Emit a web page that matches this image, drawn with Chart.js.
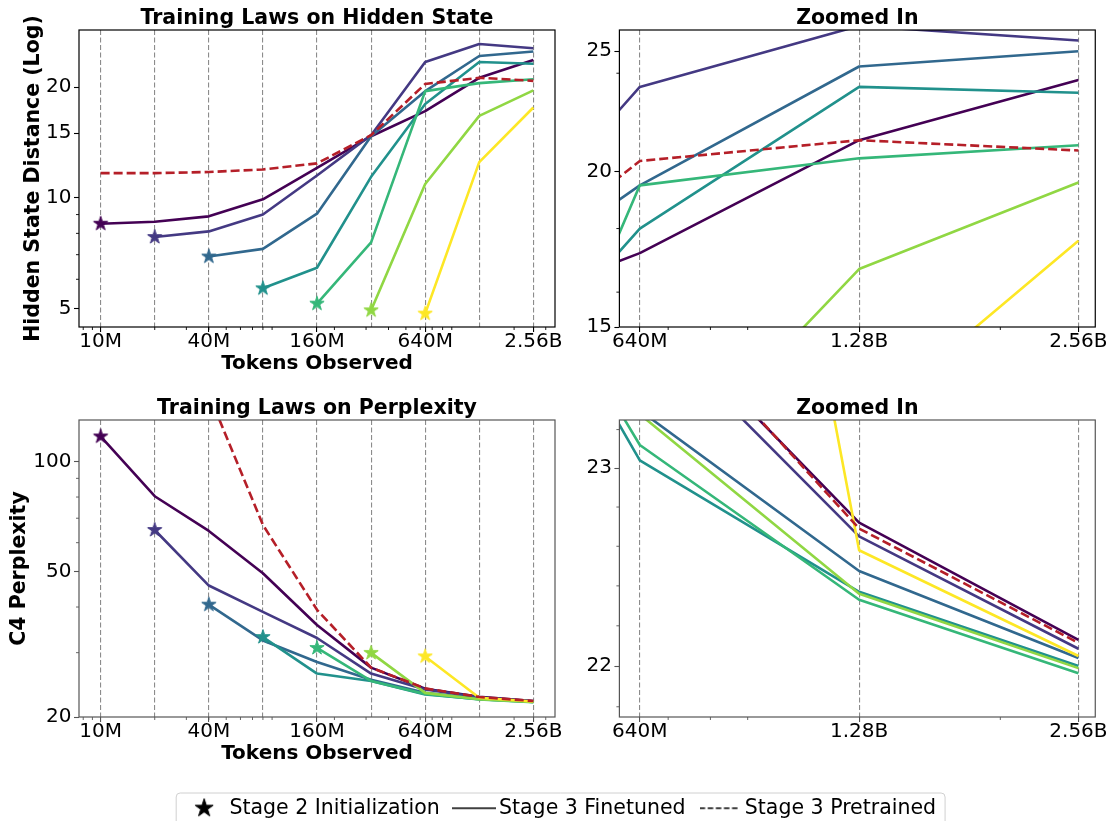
<!DOCTYPE html>
<html>
<head>
<meta charset="utf-8">
<script src="https://cdn.jsdelivr.net/npm/chart.js@4.4.0/dist/chart.umd.min.js"></script>
<style>
html, body { margin: 0; padding: 0; background: #fff; overflow: hidden; }
#wrap { position: relative; width: 1108px; height: 821px; overflow: hidden; background: #fff; }
canvas { position: absolute; }
</style>
</head>
<body>
<div id="wrap">
  <canvas id="tl" width="570" height="390" style="left:0px;top:0px"></canvas>
  <canvas id="tr" width="548" height="390" style="left:560px;top:0px"></canvas>
  <canvas id="bl" width="570" height="390" style="left:0px;top:390px"></canvas>
  <canvas id="br" width="548" height="390" style="left:560px;top:390px"></canvas>
  <canvas id="lg" width="1108" height="120" style="left:0px;top:760px"></canvas>
</div>
<script>
// ---------------- data ----------------
const tokens = [10e6, 20e6, 40e6, 80e6, 160e6, 320e6, 640e6, 1.28e9, 2.56e9];
const xTickValues = [10e6, 40e6, 160e6, 640e6, 2.56e9];
const xTickLabels = ['10M', '40M', '160M', '640M', '2.56B'];
const zoomTickValues = [640e6, 1.28e9, 2.56e9];
const zoomTickLabels = ['640M', '1.28B', '2.56B'];
const minorXLeft = [8e6, 9e6, 20e6, 30e6, 40e6, 50e6, 60e6, 70e6, 80e6, 90e6,
                    200e6, 300e6, 400e6, 500e6, 600e6, 700e6, 800e6, 900e6, 2e9, 3e9];
const minorXZoom = [700e6, 800e6, 900e6, 2e9];

const stageColors = ['#440154', '#443983', '#31688e', '#21918c', '#35b779', '#90d743', '#fde725'];
const pretrainedColor = '#b51f28';

// Hidden state distance (Stage 3 finetuned, one series per Stage 2 init point)
const hidden0 = [8.5, 8.6, 8.9, 9.9, 12.05, 14.7, 17.2, 21.2, 23.7];
const hidden1 = [null, 7.82, 8.1, 9.0, 11.5, 14.8, 23.4, 26.2, 25.5];
const hidden2 = [null, null, 6.92, 7.26, 9.05, 14.7, 19.5, 24.3, 25.0];
const hidden3 = [null, null, null, 5.67, 6.45, 11.4, 18.0, 23.4, 23.15];
const hidden4 = [null, null, null, null, 5.15, 7.56, 19.5, 20.5, 21.0];
const hidden5 = [null, null, null, null, null, 4.94, 10.9, 16.7, 19.6];
const hidden6 = [null, null, null, null, null, null, 4.84, 12.5, 17.6];
const hiddenPretrained = [11.67, 11.67, 11.75, 11.94, 12.4, 14.8, 20.4, 21.2, 20.8];

// C4 perplexity
const ppl0 = [117.2, 80.4, 64.6, 49.5, 35.7, 27.3, 23.9, 22.72, 22.13];
const ppl1 = [null, 65.0, 45.8, 38.8, 32.9, 26.3, 23.8, 22.65, 22.086];
const ppl2 = [null, null, 40.6, 32.4, 28.3, 25.3, 23.3, 22.475, 22.04];
const ppl3 = [null, null, null, 33.1, 26.3, 25.1, 23.04, 22.37, 22.0];
const ppl4 = [null, null, null, null, 30.9, 25.1, 23.12, 22.33, 21.965];
const ppl5 = [null, null, null, null, null, 29.96, 23.28, 22.36, 21.99];
const ppl6 = [null, null, null, null, null, null, 29.3, 22.58, 22.05];
const pplPretrained = [420, 260, 153, 67.1, 39.3, 27.3, 23.95, 22.69, 22.115];

const hiddenYTicks = [5, 10, 15, 20];
const hiddenZoomYTicks = [15, 20, 25];
const pplYTicks = [20, 50, 100];
const pplZoomYTicks = [22, 23];

const legendLabels = ['Stage 2 Initialization', 'Stage 3 Finetuned', 'Stage 3 Pretrained'];

// ---------------- drawing helpers ----------------
const FONT = "'DejaVu Sans', 'Liberation Sans', sans-serif";
Chart.defaults.font.family = FONT;
Chart.defaults.color = '#000';

function makeStar(color, R) {
  const pad = 1.5;
  const size = Math.ceil(2 * R + 2 * pad);
  const c = document.createElement('canvas');
  c.width = size; c.height = size;
  const g = c.getContext('2d');
  const cx = size / 2, cy = size / 2, r = R * 0.381966;
  g.beginPath();
  for (let k = 0; k < 10; k++) {
    const rad = (k % 2 === 0) ? R : r;
    const a = -Math.PI / 2 + k * Math.PI / 5;
    const px = cx + rad * Math.cos(a), py = cy + rad * Math.sin(a);
    if (k === 0) g.moveTo(px, py); else g.lineTo(px, py);
  }
  g.closePath();
  g.fillStyle = color; g.fill();
  g.lineWidth = 1; g.strokeStyle = color; g.stroke();
  return c;
}
function makeHandle(width, dash) {
  const c = document.createElement('canvas');
  c.width = width; c.height = 6;
  const g = c.getContext('2d');
  g.strokeStyle = '#000'; g.lineWidth = 1.5; g.setLineDash(dash);
  g.beginPath(); g.moveTo(0, 3); g.lineTo(width, 3); g.stroke();
  return c;
}
const starImages = stageColors.map(c => makeStar(c, 7.5));

const framePlugin = {
  id: 'frame',
  afterDatasetsDraw(chart, args, o) {
    const { ctx, chartArea: a } = chart;
    ctx.save();
    ctx.strokeStyle = o.color || '#000';
    ctx.lineWidth = 1.2;
    ctx.strokeRect(a.left, a.top, a.right - a.left, a.bottom - a.top);
    ctx.restore();
  }
};
const minorPlugin = {
  id: 'minorTicks',
  afterDraw(chart, args, o) {
    const { ctx, chartArea: a, scales } = chart;
    ctx.save();
    ctx.strokeStyle = o.color || '#000';
    ctx.lineWidth = 0.9;
    ctx.beginPath();
    (o.x || []).forEach(v => {
      const p = scales.x.getPixelForValue(v);
      if (p < a.left || p > a.right) return;
      ctx.moveTo(p, a.bottom); ctx.lineTo(p, a.bottom + o.length);
    });
    (o.y || []).forEach(v => {
      const p = scales.y.getPixelForValue(v);
      if (p < a.top || p > a.bottom) return;
      ctx.moveTo(a.left, p); ctx.lineTo(a.left - o.length, p);
    });
    ctx.stroke();
    ctx.restore();
  }
};

function panel(id, cfg) {
  const datasets = cfg.series.map((vals, i) => ({
    label: 'Stage 3 finetuned from init ' + i,
    data: tokens.map((t, j) => ({ x: t, y: vals[j] })).filter(p => p.y !== null),
    borderColor: stageColors[i],
    backgroundColor: stageColors[i],
    borderWidth: 2.6,
    borderJoinStyle: 'round',
    pointRadius: c => (c.dataIndex === 0 ? 8 : 0),
    pointHoverRadius: 0,
    pointStyle: starImages[i],
    order: -i,
    clip: 0,
    tension: 0
  }));
  datasets.push({
    label: 'Stage 3 Pretrained',
    data: tokens.map((t, j) => ({ x: t, y: cfg.pretrained[j] })),
    borderColor: pretrainedColor,
    backgroundColor: pretrainedColor,
    borderWidth: 2.6,
    borderDash: [9, 4],
    pointRadius: 0,
    pointHoverRadius: 0,
    order: -20,
    clip: 0,
    tension: 0
  });
  const gridVals = cfg.gridVals;
  return new Chart(document.getElementById(id), {
    type: 'line',
    data: { datasets },
    options: {
      responsive: false, animation: false, devicePixelRatio: 1, events: [],
      layout: { padding: { left: 0, right: cfg.padRight, top: 0, bottom: 0 } },
      scales: {
        x: {
          type: 'logarithmic', position: 'bottom', bounds: 'data',
          min: cfg.xMin, max: cfg.xMax,
          afterBuildTicks: s => { s.ticks = gridVals.map(v => ({ value: v })); },
          afterFit: s => { s.height = 63; },
          ticks: {
            autoSkip: false, maxRotation: 0, minRotation: 0, padding: 0, color: '#000',
            font: { size: 20, lineHeight: 1 },
            callback: v => { const k = cfg.xLabelVals.indexOf(v); return k >= 0 ? cfg.xLabels[k] : ''; }
          },
          grid: {
            display: true, drawOnChartArea: true, drawTicks: true, tickLength: 5,
            color: 'rgba(128,128,128,0.9)', lineWidth: 1.1,
            tickColor: c => (cfg.xLabelVals.indexOf(c.tick ? c.tick.value : NaN) >= 0 ? cfg.frameColor : 'rgba(0,0,0,0)'),
            tickWidth: 1.1, tickBorderDash: []
          },
          border: { display: false, dash: [5, 2.5] },
          title: {
            display: !!cfg.xTitle, text: cfg.xTitle || '', color: '#000',
            font: { size: 20, weight: 'bold', lineHeight: '20px' },
            padding: { top: 0, bottom: 16 }
          }
        },
        y: {
          type: 'logarithmic', position: 'left', bounds: 'data',
          min: cfg.yMin, max: cfg.yMax,
          afterBuildTicks: s => { s.ticks = cfg.yTicks.map(v => ({ value: v })); },
          afterFit: s => { s.width = cfg.yWidth; },
          ticks: { autoSkip: false, padding: 2.5, color: '#000', font: { size: 20 }, callback: v => String(v) },
          grid: { display: true, drawOnChartArea: false, drawTicks: true, tickLength: 5, tickColor: cfg.frameColor, tickWidth: 1.1 },
          border: { display: false },
          title: {
            display: !!cfg.yTitle, text: cfg.yTitle || '', color: '#000',
            font: { size: 20.5, weight: 'bold', lineHeight: '20px' },
            padding: { top: cfg.yTitlePad || 0, bottom: 0 }
          }
        }
      },
      plugins: {
        legend: { display: false },
        tooltip: { enabled: false },
        title: {
          display: true, text: cfg.title, fullSize: false, color: '#000',
          font: { size: 20.5, weight: 'bold', lineHeight: '20px' },
          padding: { top: 9, bottom: 1 }
        },
        frame: { color: cfg.frameColor },
        minorTicks: { x: cfg.minorX, y: cfg.minorY, length: 3, color: cfg.frameColor }
      }
    },
    plugins: [framePlugin, minorPlugin]
  });
}

const leftXMin = 10e6 / Math.pow(2, 0.4), leftXMax = 2.56e9 * Math.pow(2, 0.4);

panel('tl', {
  title: 'Training Laws on Hidden State',
  series: [hidden0, hidden1, hidden2, hidden3, hidden4, hidden5, hidden6],
  pretrained: hiddenPretrained,
  xMin: leftXMin, xMax: leftXMax, yMin: 4.45, yMax: 28.6,
  gridVals: tokens, xLabelVals: xTickValues, xLabels: xTickLabels,
  yTicks: hiddenYTicks, minorX: minorXLeft, minorY: [6, 7, 8, 9],
  xTitle: 'Tokens Observed', yTitle: 'Hidden State Distance (Log)', yTitlePad: 24,
  yWidth: 79, padRight: 15, frameColor: '#000'
});
panel('tr', {
  title: 'Zoomed In',
  series: [hidden0, hidden1, hidden2, hidden3, hidden4, hidden5, hidden6],
  pretrained: hiddenPretrained,
  xMin: 6e8, xMax: 2.7e9, yMin: 15, yMax: 26,
  gridVals: zoomTickValues, xLabelVals: zoomTickValues, xLabels: zoomTickLabels,
  yTicks: hiddenZoomYTicks, minorX: minorXZoom, minorY: [16, 18, 24],
  yWidth: 59.4, padRight: 12.5, frameColor: '#000'
});
panel('bl', {
  title: 'Training Laws on Perplexity',
  series: [ppl0, ppl1, ppl2, ppl3, ppl4, ppl5, ppl6],
  pretrained: pplPretrained,
  xMin: leftXMin, xMax: leftXMax, yMin: 20, yMax: 130,
  gridVals: tokens, xLabelVals: xTickValues, xLabels: xTickLabels,
  yTicks: pplYTicks, minorX: minorXLeft, minorY: [30, 40, 60, 70, 80, 90],
  xTitle: 'Tokens Observed', yTitle: 'C4 Perplexity', yTitlePad: 10,
  yWidth: 79, padRight: 15, frameColor: '#555'
});
panel('br', {
  title: 'Zoomed In',
  series: [ppl0, ppl1, ppl2, ppl3, ppl4, ppl5, ppl6],
  pretrained: pplPretrained,
  xMin: 6e8, xMax: 2.7e9, yMin: 21.75, yMax: 23.25,
  gridVals: zoomTickValues, xLabelVals: zoomTickValues, xLabels: zoomTickLabels,
  yTicks: pplZoomYTicks, minorX: minorXZoom, minorY: [21.8, 22.2, 22.4, 22.6, 22.8, 23.2],
  yWidth: 59.4, padRight: 12.5, frameColor: '#555'
});

// ---------------- shared legend ----------------
const legendImages = [makeStar('#000', 9.5), makeHandle(44, []), makeHandle(40, [5.5, 2.6])];
const legendFramePlugin = {
  id: 'legendFrame',
  afterDraw(chart) {
    const hb = chart.legend && chart.legend.legendHitBoxes;
    if (!hb || !hb.length) return;
    const first = hb[0], last = hb[hb.length - 1];
    const left = first.left - 13, right = last.left + last.width + 9;
    const top = first.top - 5, h = 60, r = 4;
    const ctx = chart.ctx;
    ctx.save();
    ctx.strokeStyle = '#d0d0d0';
    ctx.lineWidth = 1;
    ctx.beginPath();
    ctx.moveTo(left + r, top);
    ctx.lineTo(right - r, top);
    ctx.quadraticCurveTo(right, top, right, top + r);
    ctx.lineTo(right, top + h);
    ctx.moveTo(left, top + h);
    ctx.lineTo(left, top + r);
    ctx.quadraticCurveTo(left, top, left + r, top);
    ctx.stroke();
    ctx.restore();
  }
};
new Chart(document.getElementById('lg'), {
  type: 'line',
  data: { datasets: [] },
  options: {
    responsive: false, animation: false, devicePixelRatio: 1, events: [],
    layout: { padding: { left: 17.25, top: 19, right: 0, bottom: 0 } },
    scales: { x: { display: false }, y: { display: false } },
    plugins: {
      tooltip: { enabled: false },
      title: { display: false },
      legend: {
        display: true, position: 'top', align: 'center',
        labels: {
          usePointStyle: true, pointStyleWidth: 30, padding: 19,
          color: '#000', font: { size: 20.5 },
          generateLabels: () => legendLabels.map((t, i) => ({
            text: t, fillStyle: '#000', strokeStyle: '#000', lineWidth: 1,
            pointStyle: legendImages[i], hidden: false, fontColor: '#000', datasetIndex: i
          }))
        }
      }
    }
  },
  plugins: [legendFramePlugin]
});
</script>
</body>
</html>
